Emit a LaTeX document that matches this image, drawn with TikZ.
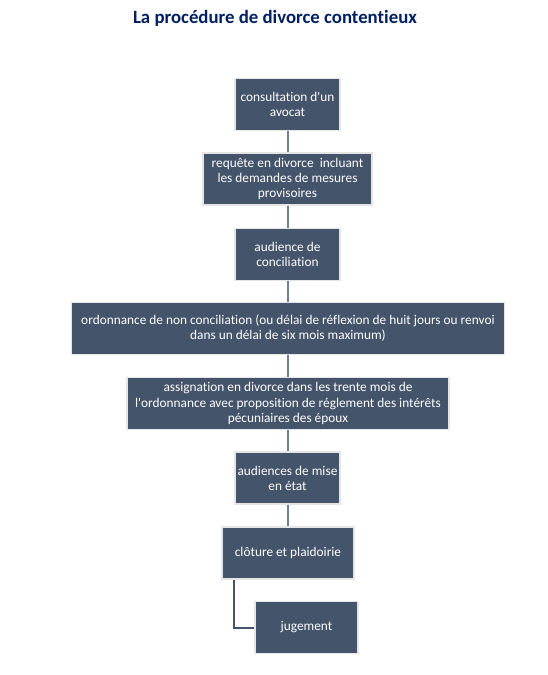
\documentclass[tikz,border=0pt]{standalone}
\usepackage{fontspec}
\setmainfont{Carlito}[Ligatures=NoCommon]
\usetikzlibrary{positioning}
\definecolor{boxfill}{HTML}{44546A}
\definecolor{linkline}{HTML}{6F7F96}
\definecolor{titleblue}{HTML}{002060}

\begin{document}
\begin{tikzpicture}[x=0.75pt, y=-0.75pt,
  etape/.style={draw=gray!20, line width=0.8pt, fill=boxfill, text=white,
    font=\fontsize{10}{11.3}\selectfont, align=center, inner sep=0pt,
    minimum height=39pt},
  lien/.style={draw=linkline, line width=1.5pt},
  coude/.style={draw=boxfill, line width=1.5pt}]
  \useasboundingbox (0,0) rectangle (547,675);
  \node[font=\fontsize{14.1}{16}\selectfont\bfseries, text=titleblue] (titre) at (275,18) {La procédure de divorce contentieux};
  % etapes
  \node[etape, minimum width=78.75pt] (consult) at (287.5,104.5) {consultation d\textquotesingle un\\avocat};
  \node[etape, minimum width=126.75pt] (requete) at (287.5,179) {requête en divorce\ \ incluant\\les demandes de mesures\\provisoires};
  \node[etape, minimum width=78.75pt] (concil) at (287.5,254.5) {audience de\\conciliation};
  \node[etape, minimum width=324.75pt] (ordonnance) at (288,328.5) {ordonnance de non conciliation (ou délai de réflexion de huit jours ou renvoi\\dans un délai de six mois maximum)};
  \node[etape, minimum width=241.5pt] (assign) at (288,403.5) {assignation en divorce dans les trente mois de\\l\textquotesingle ordonnance avec proposition de réglement des intérêts\\pécuniaires des époux};
  \node[etape, minimum width=78.75pt] (miseetat) at (287.5,478) {audiences de mise\\en état};
  \node[etape, minimum width=99pt] (cloture) at (288,553) {clôture et plaidoirie};
  \node[etape, minimum width=77.25pt] (jugement) at (306.5,627.5) {jugement};
  % liens
  \draw[lien] (consult.south) -- (consult.south |- requete.north);
  \draw[lien] (requete.south) -- (requete.south |- concil.north);
  \draw[lien] (concil.south) -- (concil.south |- ordonnance.north);
  \draw[lien] (ordonnance.south) -- (ordonnance.south |- assign.north);
  \draw[lien] (assign.south) -- (assign.south |- miseetat.north);
  \draw[lien] (miseetat.south) -- (miseetat.south |- cloture.north);
  \draw[coude] ([xshift=9.75pt]cloture.south west) |- (jugement.west);
\end{tikzpicture}
\end{document}
